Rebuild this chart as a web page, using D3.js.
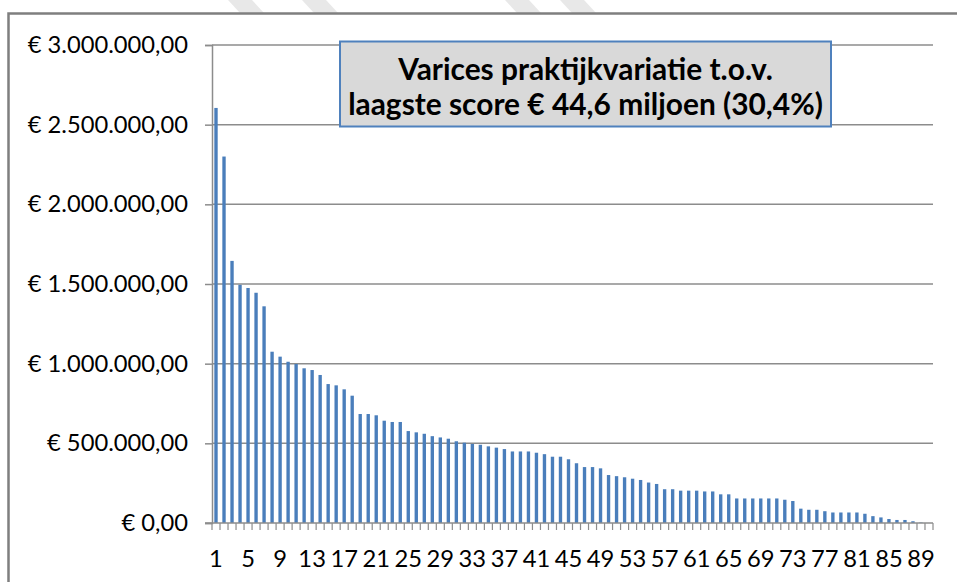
<!DOCTYPE html>
<html>
<head>
<meta charset="utf-8">
<script src="https://cdn.jsdelivr.net/npm/d3@7"></script>
<style>
  body { margin: 0; background: #fff; }
  svg { display: block; }
</style>
</head>
<body>
<div id="content"></div>
<script>
// Varices praktijkvariatie - staafdiagram
var w = 957,
    h = 582;

var categories = [1, 2, 3, 4, 5, 6, 7, 8, 9, 10, 11, 12, 13, 14, 15, 16, 17, 18, 19, 20,
    21, 22, 23, 24, 25, 26, 27, 28, 29, 30, 31, 32, 33, 34, 35, 36, 37, 38, 39, 40,
    41, 42, 43, 44, 45, 46, 47, 48, 49, 50, 51, 52, 53, 54, 55, 56, 57, 58, 59, 60,
    61, 62, 63, 64, 65, 66, 67, 68, 69, 70, 71, 72, 73, 74, 75, 76, 77, 78, 79, 80,
    81, 82, 83, 84, 85, 86, 87, 88, 89, 90];

var values = [2605000, 2300000, 1645000, 1495000, 1475000, 1445000, 1360000, 1075000, 1044000, 1012000,
    998000, 971000, 960000, 929000, 872000, 864000, 839000, 799000, 684000, 684000,
    676000, 642000, 634000, 634000, 577000, 569000, 560000, 545000, 537000, 529000,
    513000, 504000, 496000, 491000, 481000, 473000, 464000, 449000, 449000, 449000,
    441000, 432000, 416000, 416000, 400000, 375000, 351000, 351000, 343000, 301000,
    294000, 287000, 278000, 270000, 254000, 245000, 212000, 212000, 203000, 203000,
    203000, 198000, 198000, 180000, 180000, 154000, 154000, 154000, 154000, 154000,
    154000, 146000, 138000, 90000, 83000, 83000, 74000, 66000, 66000, 66000,
    66000, 58000, 43000, 35000, 25000, 19000, 19000, 11000, 3000, 0];

var yTicks = [0, 500000, 1000000, 1500000, 2000000, 2500000, 3000000];
var xLabels = [1, 5, 9, 13, 17, 21, 25, 29, 33, 37, 41, 45, 49, 53, 57, 61, 65, 69, 73, 77, 81, 85, 89];
var titleLines = ["Varices praktijkvariatie t.o.v.", "laagste score € 44,6 miljoen (30,4%)"];

// plot area (note: "top" is reserved on window)
var pLeft = 212, pRight = 933, pTop = 45, pBottom = 523;
var font = "Lato, 'Open Sans', sans-serif";

var nl = d3.formatLocale({
    decimal: ",",
    thousands: ".",
    grouping: [3],
    currency: ["€ ", ""]
});
var fmt = nl.format("$,.2f");

var svg = d3.select("#content")
    .append("svg")
    .attr("width", w)
    .attr("height", h);

svg.append("rect").attr("width", w).attr("height", h).attr("fill", "#fff");

// faint watermark strokes above the frame
var marks = [228, 302, 505, 560];
svg.selectAll("path.wm")
    .data(marks)
    .enter()
    .append("path")
    .attr("class", "wm")
    .attr("d", function(d) { return "M" + d + ",0L" + (d + 24) + ",0L" + (d + 36) + ",13L" + (d + 12) + ",13Z"; })
    .attr("fill", "#e8e8e8");

// chart frame
svg.append("path")
    .attr("d", "M8.5," + (h + 5) + "L8.5,13.5L" + (w + 5) + ",13.5")
    .attr("fill", "none")
    .attr("stroke", "#7f7f7f")
    .attr("stroke-width", 2.5);

var x = d3.scaleBand()
    .domain(categories)
    .range([pLeft, pRight])
    .paddingInner(0.58)
    .paddingOuter(0.29);

var y = d3.scaleLinear()
    .domain([0, 3000000])
    .range([pBottom, pTop]);

// fit font size of a string to a target width
function fitSize(str, target, weight) {
    var t = svg.append("text")
        .attr("font-family", font)
        .attr("font-weight", weight || "normal")
        .attr("font-size", 100)
        .text(str);
    var wd = t.node().getComputedTextLength();
    t.remove();
    return 100 * target / wd;
}

var labelSize = fitSize("€ 500.000,00", 141);
var titleSize = fitSize(titleLines[1], 475, "bold");

// gridlines
svg.append("g")
    .selectAll("line")
    .data(yTicks.filter(function(d) { return d > 0; }))
    .enter()
    .append("line")
    .attr("x1", pLeft)
    .attr("x2", pRight)
    .attr("y1", function(d) { return y(d); })
    .attr("y2", function(d) { return y(d); })
    .attr("stroke", "#8c8c8c")
    .attr("stroke-width", 1.5);

// y axis
var yAxis = svg.append("g")
    .attr("transform", "translate(" + pLeft + ",0)")
    .call(d3.axisLeft(y).tickValues(yTicks).tickSize(7).tickPadding(17).tickFormat(fmt));
yAxis.selectAll("line").attr("stroke", "#8c8c8c").attr("stroke-width", 1.5);
yAxis.select(".domain").attr("stroke", "#8c8c8c").attr("stroke-width", 1.5);
yAxis.selectAll("text")
    .attr("font-family", font)
    .attr("font-size", labelSize)
    .attr("fill", "#000");

// bars
svg.append("g")
    .selectAll("rect")
    .data(values)
    .enter()
    .append("rect")
    .attr("x", function(d, i) { return x(categories[i]); })
    .attr("y", function(d) { return y(d); })
    .attr("width", x.bandwidth())
    .attr("height", function(d) { return pBottom - y(d); })
    .attr("fill", "#4a7ebb");

// x axis: ticks between categories
var half = (x.step() - x.bandwidth()) / 2;
var bounds = categories.map(function(c) { return x(c) - half; }).concat([pRight]);
svg.append("g")
    .selectAll("line")
    .data(bounds)
    .enter()
    .append("line")
    .attr("x1", function(d) { return d; })
    .attr("x2", function(d) { return d; })
    .attr("y1", pBottom)
    .attr("y2", pBottom + 7)
    .attr("stroke", "#8c8c8c")
    .attr("stroke-width", 1.2);

svg.append("line")
    .attr("x1", pLeft - 7)
    .attr("x2", pRight)
    .attr("y1", pBottom)
    .attr("y2", pBottom)
    .attr("stroke", "#8c8c8c")
    .attr("stroke-width", 1.5);

var xAxis = svg.append("g")
    .attr("transform", "translate(0," + pBottom + ")")
    .call(d3.axisBottom(x).tickValues(xLabels).tickSize(0).tickPadding(0));
xAxis.select(".domain").remove();
xAxis.selectAll("text")
    .attr("font-family", font)
    .attr("font-size", labelSize)
    .attr("fill", "#000")
    .attr("dy", null)
    .attr("y", 44);

// title box
var box = svg.append("g");
box.append("rect")
    .attr("x", 340)
    .attr("y", 41.5)
    .attr("width", 491)
    .attr("height", 85)
    .attr("fill", "#d9d9d9")
    .attr("stroke", "#4f81bd")
    .attr("stroke-width", 2);

box.selectAll("text")
    .data(titleLines)
    .enter()
    .append("text")
    .attr("x", 585.5)
    .attr("y", function(d, i) { return 80 + i * 35; })
    .attr("text-anchor", "middle")
    .attr("font-family", font)
    .attr("font-weight", "bold")
    .attr("font-size", titleSize)
    .attr("fill", "#000")
    .text(function(d) { return d; });
</script>
</body>
</html>
